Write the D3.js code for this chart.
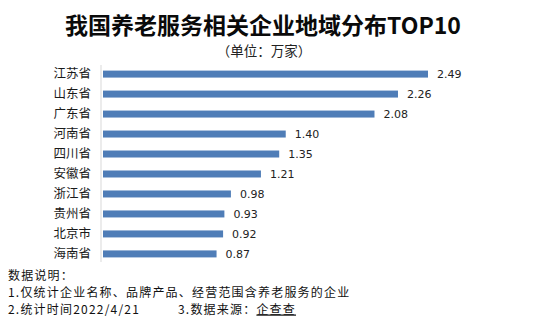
<!DOCTYPE html>
<html>
<head>
<meta charset="utf-8">
<script src="https://cdn.jsdelivr.net/npm/d3@7"></script>
<style>
  html, body { margin: 0; padding: 0; background: #fff; }
  svg { display: block; }
</style>
</head>
<body>
<svg id="chart" width="537" height="323"></svg>
<script>
// Provinces ranked by number of elderly-care related companies (unit: 10k)
const provinces = ["江苏省", "山东省", "广东省", "河南省", "四川省", "安徽省", "浙江省", "贵州省", "北京市", "海南省"];
const companies = [2.49, 2.26, 2.08, 1.40, 1.35, 1.21, 0.98, 0.93, 0.92, 0.87];
const notes = [
  "数据说明：",
  "1.仅统计企业名称、品牌产品、经营范围含养老服务的企业",
  "2.统计时间2022/4/21"
];
const sourceLabel = "3.数据来源：";
const sourceName = "企查查";

const FONT = "'Noto Sans CJK SC', 'Noto Sans', sans-serif";
const svg = d3.select("#chart");

// Title and unit
svg.append("text")
  .attr("x", 263).attr("y", 34)
  .attr("text-anchor", "middle")
  .attr("font-family", FONT).attr("font-weight", 700)
  .attr("font-size", 23).attr("fill", "#0a0a0a")
  .text("我国养老服务相关企业地域分布TOP10");
svg.append("text")
  .attr("x", 264).attr("y", 56)
  .attr("text-anchor", "middle")
  .attr("font-family", FONT)
  .attr("font-size", 13.5).attr("fill", "#222")
  .text("（单位：万家）");

// Scales
const x = d3.scaleLinear().domain([0, 2.49]).range([103, 428]);
const y = d3.scaleBand().domain(provinces).range([64, 264]).paddingInner(0.65).paddingOuter(0.33);

const data = provinces.map((p, i) => ({ p, v: companies[i] }));

// Category axis
const yAxis = d3.axisLeft(y).tickSize(0).tickPadding(10);
const gy = svg.append("g").attr("transform", "translate(101,0)").call(yAxis);
gy.select(".domain").attr("stroke", "#d9d9d9").attr("d", "M0,65V262");
gy.selectAll("text")
  .attr("font-family", FONT).attr("font-size", 12.5).attr("fill", "#1a1a1a");

// Bars
svg.append("g").selectAll("rect").data(data).join("rect")
  .attr("x", x(0))
  .attr("y", d => y(d.p))
  .attr("width", d => x(d.v) - x(0))
  .attr("height", y.bandwidth())
  .attr("fill", "#4f7db7");

// Value labels
svg.append("g").selectAll("text").data(data).join("text")
  .attr("x", d => x(d.v) + 9)
  .attr("y", d => y(d.p) + y.bandwidth() / 2)
  .attr("dy", "0.36em")
  .attr("font-family", "'DejaVu Sans', sans-serif")
  .attr("font-size", 11).attr("fill", "#222")
  .text(d => d.v.toFixed(2));

// Footnotes
const foot = svg.append("g")
  .attr("font-family", FONT).attr("font-size", 12)
  .attr("letter-spacing", 1.2).attr("fill", "#111");
notes.forEach((t, i) => {
  foot.append("text").attr("x", 8).attr("y", 279.5 + i * 17).text(t);
});
const src = foot.append("text").attr("x", 178).attr("y", 313.5);
src.append("tspan").text(sourceLabel);
src.append("tspan").attr("text-decoration", "underline").text(sourceName);
</script>
</body>
</html>
